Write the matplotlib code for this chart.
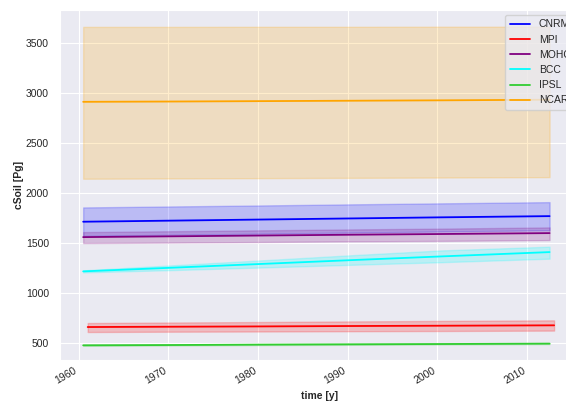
import numpy as np
import matplotlib
matplotlib.use("Agg")
import matplotlib.pyplot as plt
import matplotlib.dates as mdates
import seaborn as sns

sns.set_style("darkgrid")
plt.rcParams['font.family'] = ['Liberation Sans', 'DejaVu Sans']

# model names and colours
models = ["CNRM", "MPI", "MOHC", "BCC", "IPSL", "NCAR"]
colors = ["blue", "red", "purple", "cyan", "limegreen", "orange"]

# sample years (mid-year for most models, start of year for MPI)
years_mid = ["1960-07-01", "1970-07-01", "1980-07-01", "1990-07-01", "2000-07-01", "2012-07-01"]
years_jan = ["1961-01-01", "1970-01-01", "1980-01-01", "1990-01-01", "2000-01-01", "2013-01-01"]

# soil carbon [Pg]: mean, lower and upper bound
cnrm_mean = [1714, 1725, 1736, 1747, 1758, 1770]
cnrm_low = [1572, 1583, 1594, 1605, 1616, 1628]
cnrm_high = [1857, 1867, 1877, 1888, 1898, 1910]

mpi_mean = [660, 663, 666, 670, 673, 677]
mpi_low = [610, 613, 615, 618, 620, 624]
mpi_high = [700, 705, 710, 716, 721, 727]

mohc_mean = [1560, 1568, 1576, 1584, 1591, 1600]
mohc_low = [1500, 1505, 1511, 1517, 1522, 1530]
mohc_high = [1610, 1619, 1628, 1637, 1645, 1657]

bcc_mean = [1217, 1254, 1292, 1330, 1367, 1410]
bcc_low = [1207, 1230, 1256, 1283, 1309, 1344]
bcc_high = [1227, 1278, 1328, 1379, 1427, 1464]

ipsl_mean = [477, 480, 484, 487, 490, 494]
ipsl_low = [472, 475, 479, 482, 485, 489]
ipsl_high = [482, 485, 489, 492, 495, 499]

ncar_mean = [2914, 2917, 2921, 2925, 2929, 2935]
ncar_low = [2144, 2147, 2150, 2153, 2156, 2160]
ncar_high = [3664, 3664, 3665, 3665, 3666, 3666]

series = [
    (years_mid, cnrm_mean, cnrm_low, cnrm_high),
    (years_jan, mpi_mean, mpi_low, mpi_high),
    (years_mid, mohc_mean, mohc_low, mohc_high),
    (years_mid, bcc_mean, bcc_low, bcc_high),
    (years_mid, ipsl_mean, ipsl_low, ipsl_high),
    (years_mid, ncar_mean, ncar_low, ncar_high),
]

fig = plt.figure(figsize=(5.66, 4.05), dpi=100)
ax = fig.add_axes([60 / 566, 45 / 405, 520 / 566, 350 / 405])

for name, col, (t, m, lo, hi) in zip(models, colors, series):
    t = np.array(t, dtype="datetime64[D]")
    ax.plot(t, m, color=col, lw=1.3, label=name)
    ax.fill_between(t, lo, hi, color=col, alpha=0.2)

# x range in years, expressed as dates
x0 = mdates.date2num(np.datetime64("1960-01-01"))
ax.set_xlim(x0 - 2.085 * 365.25, x0 + 55.89 * 365.25)
ax.set_ylim(330, 3833)
ax.set_yticks([500, 1000, 1500, 2000, 2500, 3000, 3500])
ax.xaxis.set_major_locator(mdates.YearLocator(10))
ax.xaxis.set_major_formatter(mdates.DateFormatter("%Y"))

ax.tick_params(labelsize=7.5, colors="#262626", length=0)
ax.tick_params(axis="y", pad=8)
ax.tick_params(axis="x", pad=4)
for lab in ax.get_xticklabels():
    lab.set_rotation(30)
    lab.set_ha("right")

ax.set_xlabel("time [y]", fontsize=7.5, fontweight="bold", labelpad=4)
ax.set_ylabel("cSoil [Pg]", fontsize=7.5, fontweight="bold", labelpad=1)
ax.legend(loc="upper right", fontsize=7.5, borderaxespad=0.5)

fig.savefig("out.png", dpi=100)
